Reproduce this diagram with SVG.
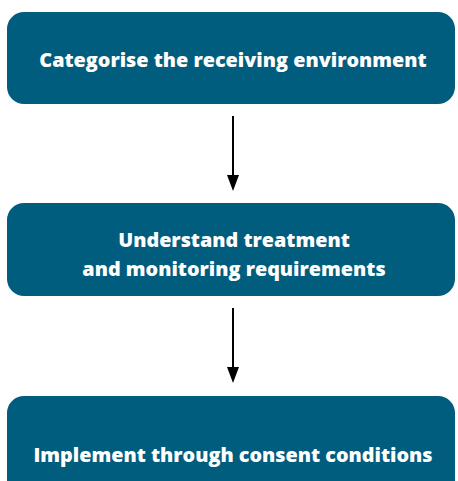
<svg xmlns="http://www.w3.org/2000/svg" width="458" height="481" viewBox="0 0 458 481">
  <style>
    .box { fill: #015d7d; }
    .label { fill: #ffffff; font-family: "Open Sans", Lato, "Liberation Sans", sans-serif; font-weight: 800; font-size: 19.8px; text-anchor: middle; }
    .link { stroke: #000000; stroke-width: 2; fill: none; }
    .head { fill: #000000; }
  </style>
  <rect width="458" height="481" fill="#ffffff"/>

  <g id="step-categorise">
    <rect class="box" x="7" y="12" width="448" height="92" rx="17"/>
    <text class="label" x="233" y="67">Categorise the receiving environment</text>
  </g>

  <g id="step-understand">
    <rect class="box" x="7" y="203" width="448" height="93" rx="17"/>
    <text class="label" x="234" y="247">Understand treatment</text>
    <text class="label" x="234" y="276">and monitoring requirements</text>
  </g>

  <g id="step-implement">
    <rect class="box" x="7" y="396" width="448" height="110" rx="17"/>
    <text class="label" x="233" y="462">Implement through consent conditions</text>
  </g>

  <g id="connectors">
    <line class="link" x1="233" y1="116" x2="233" y2="178"/>
    <path class="head" d="M227,175 L239,175 L233,191 Z"/>
    <line class="link" x1="233" y1="308" x2="233" y2="370"/>
    <path class="head" d="M227,367 L239,367 L233,383 Z"/>
  </g>
</svg>
